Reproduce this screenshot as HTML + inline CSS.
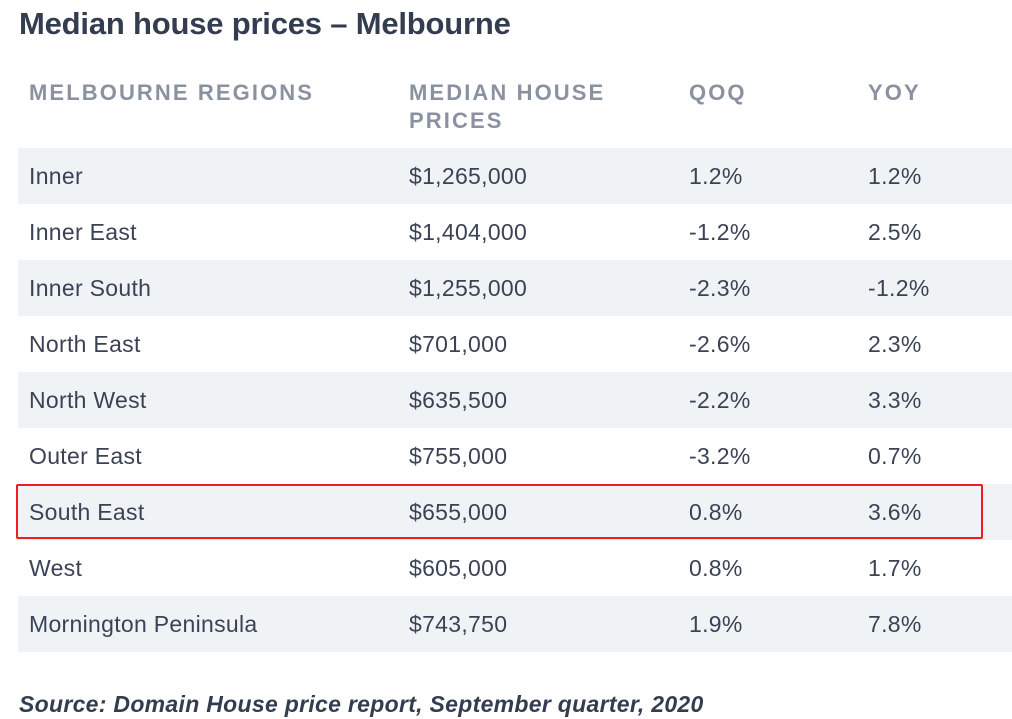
<!DOCTYPE html>
<html><head><meta charset="utf-8"><style>
body{margin:0;width:1012px;height:719px;background:#fff;font-family:"Liberation Sans",sans-serif;color:#3a4356;position:relative;overflow:hidden}
.t{position:absolute;left:19px;top:6px;font-size:31px;font-weight:bold;color:#333d4f;letter-spacing:-0.2px}
.h{position:absolute;font-size:22px;font-weight:bold;color:#8a92a1;letter-spacing:2.1px;line-height:28px;top:79px}
.row{position:absolute;left:18px;width:994px;height:56px}
.row.g{background:#f0f3f6}
.c{position:absolute;top:0;line-height:57px;font-size:23px;letter-spacing:0.3px}
.box{position:absolute;left:16px;top:484px;width:963px;height:51px;border:2px solid #ee1c1c;border-radius:2px}
.src{position:absolute;left:19px;top:691px;font-size:23px;font-weight:bold;font-style:italic;color:#333d4f;letter-spacing:0.3px}
</style></head><body>
<div class="t">Median house prices – Melbourne</div>
<div class="h" style="left:29px">MELBOURNE REGIONS</div>
<div class="h" style="left:409px">MEDIAN HOUSE<br>PRICES</div>
<div class="h" style="left:689px">QOQ</div>
<div class="h" style="left:868px">YOY</div>
<div id="rows"></div>
<div class="box"></div>
<div class="src">Source: Domain House price report, September quarter, 2020</div>
<script>
const regions=["Inner","Inner East","Inner South","North East","North West","Outer East","South East","West","Mornington Peninsula"];
const prices=["$1,265,000","$1,404,000","$1,255,000","$701,000","$635,500","$755,000","$655,000","$605,000","$743,750"];
const qoq=["1.2%","-1.2%","-2.3%","-2.6%","-2.2%","-3.2%","0.8%","0.8%","1.9%"];
const yoy=["1.2%","2.5%","-1.2%","2.3%","3.3%","0.7%","3.6%","1.7%","7.8%"];
const cont=document.getElementById('rows');
const xs=[11,391,671,850];
regions.forEach((r,i)=>{
  const row=document.createElement('div');
  row.className='row'+(i%2===0?' g':'');
  row.style.top=(148+i*56)+'px';
  
  
  [r,prices[i],qoq[i],yoy[i]].forEach((v,j)=>{
    const c=document.createElement('div');
    c.className='c';c.style.left=xs[j]+'px';c.textContent=v;
    
    
    row.appendChild(c);
  });
  cont.appendChild(row);
});
</script>
</body></html>
